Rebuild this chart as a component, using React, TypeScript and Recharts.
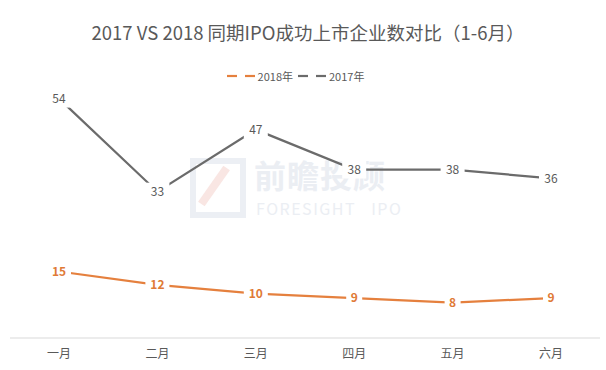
import React from "react";
import { LineChart, Line, XAxis, YAxis, LabelList } from "recharts";

const months = ["一月", "二月", "三月", "四月", "五月", "六月"];
const ipo2018 = [15, 12, 10, 9, 8, 9];
const ipo2017 = [54, 33, 47, 38, 38, 36];

const data = months.map((month, i) => ({
  month,
  y2018: ipo2018[i],
  y2017: ipo2017[i],
}));

const ORANGE = "#E5803E";
const GRAY = "#6B6B6B";
const FONT = "'Noto Sans CJK SC', 'Noto Sans', sans-serif";

function makeLabel(color: string, bold: boolean) {
  return (props: any) => {
    const { x, y, value } = props;
    const w = String(value).length * 8 + 8;
    return (
      <g>
        <rect x={x - w / 2} y={y - 9} width={w} height={18} fill="#fff" />
        <text
          x={x}
          y={y}
          dy="0.35em"
          textAnchor="middle"
          fill={color}
          fontSize={12}
          fontWeight={bold ? 600 : 400}
          fontFamily={FONT}
        >
          {value}
        </text>
      </g>
    );
  };
}

function LegendRow() {
  const items = [
    { name: "2018年", color: ORANGE },
    { name: "2017年", color: GRAY },
  ];
  return (
    <div
      style={{
        position: "absolute",
        top: 68,
        left: 0,
        width: 590,
        display: "flex",
        justifyContent: "center",
        gap: 4,
        fontFamily: FONT,
        fontSize: 11,
        color: "#595959",
      }}
    >
      {items.map((it) => (
        <div key={it.name} style={{ display: "flex", alignItems: "center" }}>
          <svg width={32} height={14}>
            <line x1={1} y1={7} x2={11} y2={7} stroke={it.color} strokeWidth={2.2} />
            <line x1={19} y1={7} x2={29} y2={7} stroke={it.color} strokeWidth={2.2} />
          </svg>
          <span>{it.name}</span>
        </div>
      ))}
    </div>
  );
}

export default function App() {
  return (
    <div style={{ position: "relative", width: 606, height: 370, background: "#fff" }}>
      <style>{"body{margin:0}"}</style>
      {/* watermark */}
      <div style={{ position: "absolute", left: 190, top: 156, width: 180, height: 64 }}>
        <div
          style={{
            position: "absolute",
            left: 0,
            top: 2,
            width: 44,
            height: 48,
            border: "6px solid #ECEFF4",
          }}
        />
        <div
          style={{
            position: "absolute",
            left: 20,
            top: 8,
            width: 8,
            height: 44,
            background: "#F9E6E3",
            transform: "rotate(35deg)",
          }}
        />
        <div
          style={{
            position: "absolute",
            left: 64,
            top: -5,
            fontFamily: FONT,
            fontWeight: 700,
            fontSize: 32,
            color: "#EBEEF3",
            letterSpacing: 1,
            whiteSpace: "nowrap",
          }}
        >
          前瞻投顾
        </div>
        <div
          style={{
            position: "absolute",
            left: 66,
            top: 40,
            fontFamily: FONT,
            fontSize: 16,
            color: "#EBEEF3",
            letterSpacing: 1.5,
            wordSpacing: 10,
            whiteSpace: "nowrap",
          }}
        >
          FORESIGHT IPO
        </div>
      </div>
      <div
        style={{
          position: "absolute",
          top: 19,
          left: 0,
          width: 616,
          textAlign: "center",
          fontFamily: FONT,
          fontSize: 18.5,
          color: "#595959",
        }}
      >
        2017 VS 2018 同期IPO成功上市企业数对比（1-6月）
      </div>
      <LegendRow />
      <div style={{ position: "absolute", top: 0, left: 0 }}>
        <LineChart
          width={606}
          height={370}
          data={data}
          margin={{ top: 72, right: 6, left: 10, bottom: 0 }}
        >
          <XAxis
            dataKey="month"
            axisLine={{ stroke: "#D9D9D9" }}
            tickLine={false}
            height={32}
            tickMargin={5}
            padding={{ left: 49, right: 49 }}
            tick={{ fill: "#595959", fontSize: 12, fontFamily: FONT }}
            interval={0}
          />
          <YAxis hide domain={[0, 60]} />
          <Line
            dataKey="y2018"
            stroke={ORANGE}
            strokeWidth={2.25}
            dot={false}
            activeDot={false}
            isAnimationActive={false}
          >
            <LabelList dataKey="y2018" content={makeLabel("#E07A36", true)} />
          </Line>
          <Line
            dataKey="y2017"
            stroke={GRAY}
            strokeWidth={2.25}
            dot={false}
            activeDot={false}
            isAnimationActive={false}
          >
            <LabelList dataKey="y2017" content={makeLabel("#595959", false)} />
          </Line>
        </LineChart>
      </div>
    </div>
  );
}
